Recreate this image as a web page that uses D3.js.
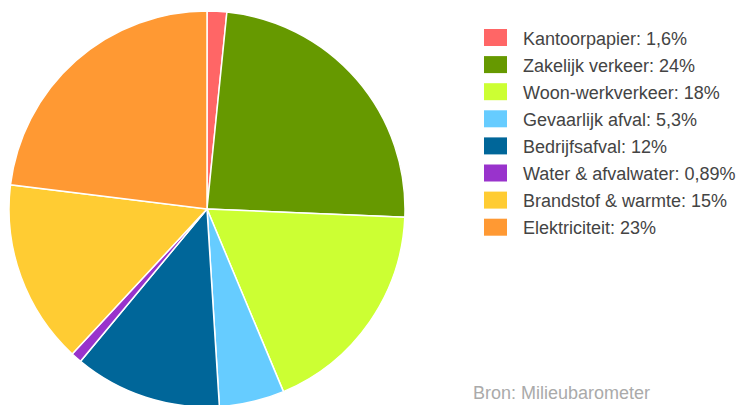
<!DOCTYPE html>
<html>
<head>
<meta charset="utf-8">
<script src="https://cdn.jsdelivr.net/npm/d3@7"></script>
<style>
  body { margin: 0; background: #fff; }
  text { font-family: "Liberation Sans", Arial, sans-serif; }
</style>
</head>
<body>
<svg width="738" height="405"></svg>
<script>
var categories = ["Kantoorpapier", "Zakelijk verkeer", "Woon-werkverkeer", "Gevaarlijk afval",
                  "Bedrijfsafval", "Water & afvalwater", "Brandstof & warmte", "Elektriciteit"];
var values = [1.6, 24, 18, 5.3, 12, 0.89, 15, 23];
var labels = ["1,6%", "24%", "18%", "5,3%", "12%", "0,89%", "15%", "23%"];
var colors = ["#ff6666", "#669900", "#ccff33", "#66ccff", "#006699", "#9933cc", "#ffcc33", "#ff9933"];

var svg = d3.select("svg"),
    cx = 207, cy = 209, radius = 198;

var data = categories.map(function(c, i) {
    return { name: c, value: values[i], label: labels[i], color: colors[i] };
});

var pie = d3.pie().sort(null).value(function(d) { return d.value; });
var arc = d3.arc().innerRadius(0).outerRadius(radius);

svg.append("g")
    .attr("transform", "translate(" + cx + "," + cy + ")")
    .selectAll("path")
    .data(pie(data))
    .enter().append("path")
    .attr("d", arc)
    .attr("fill", function(d) { return d.data.color; })
    .attr("stroke", "#fff")
    .attr("stroke-width", 1.5);

// legend
var legend = svg.append("g").attr("transform", "translate(484,29)");
var rows = legend.selectAll("g")
    .data(data)
    .enter().append("g")
    .attr("transform", function(d, i) { return "translate(0," + (i * 27.1) + ")"; });

rows.append("rect")
    .attr("width", 23)
    .attr("height", 17)
    .attr("fill", function(d) { return d.color; });

rows.append("text")
    .attr("x", 39)
    .attr("y", 15.5)
    .attr("font-size", 18)
    .attr("fill", "#444")
    .text(function(d) { return d.name + ": " + d.label; });

svg.append("text")
    .attr("x", 473)
    .attr("y", 399)
    .attr("font-size", 18)
    .attr("fill", "#aaa")
    .text("Bron: Milieubarometer");
</script>
</body>
</html>
